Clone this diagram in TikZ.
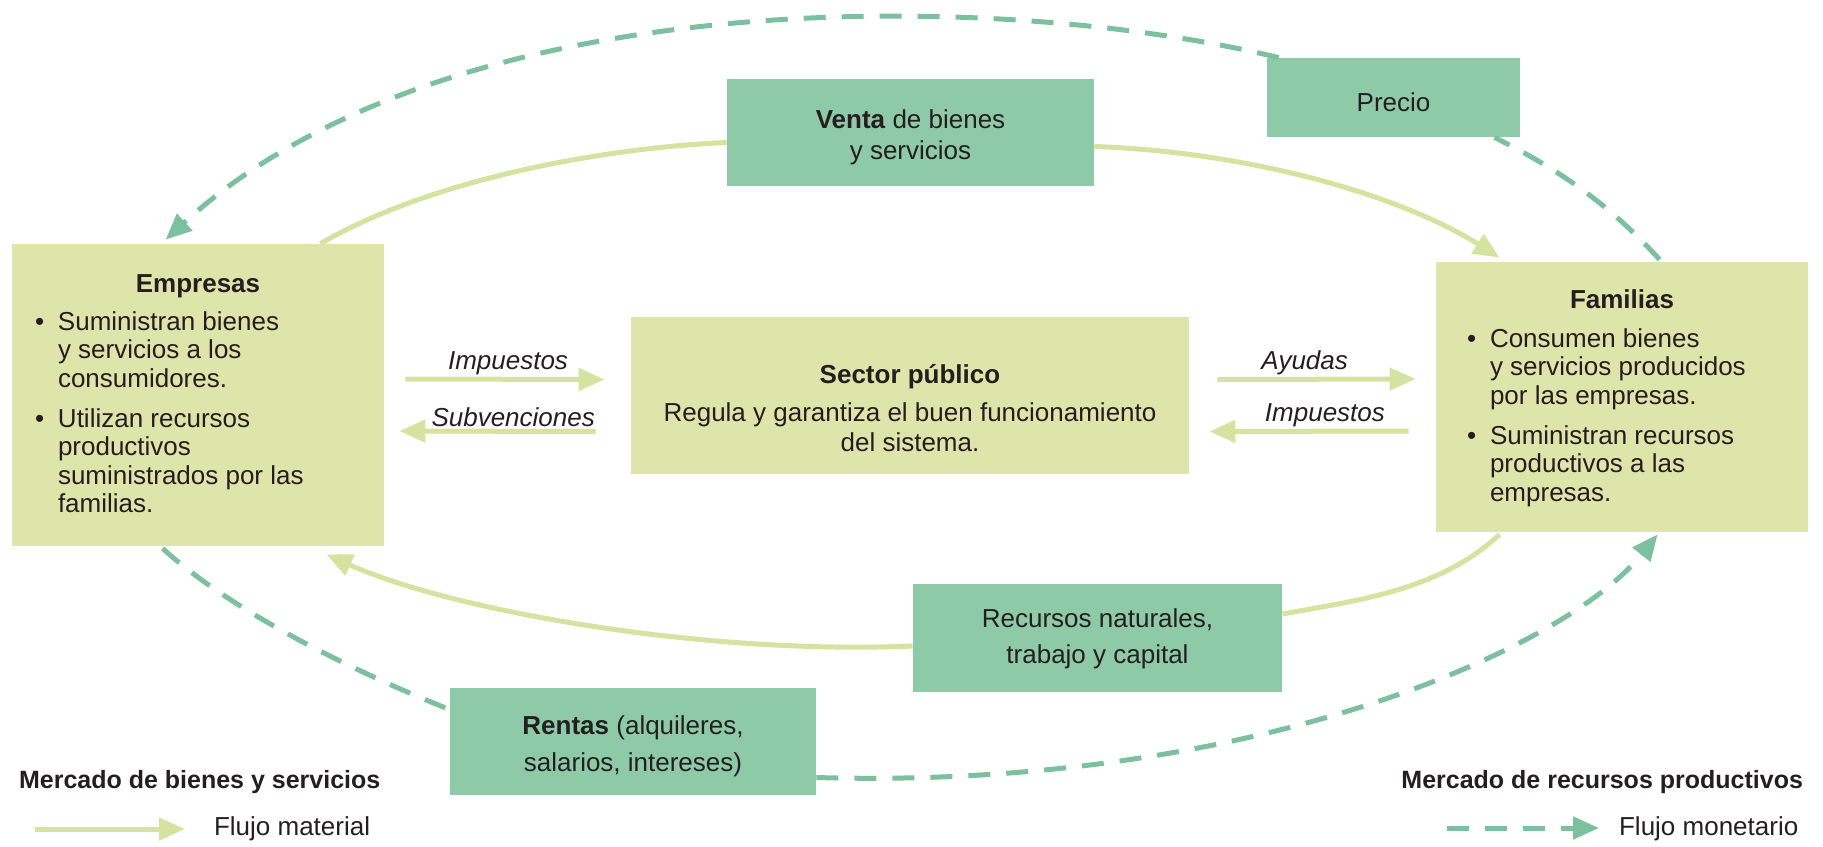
\documentclass[tikz,border=0pt]{standalone}
\usepackage{fontspec}
\setmainfont{Liberation Sans}
\usetikzlibrary{arrows.meta,calc}

\definecolor{verdeclaro}{RGB}{221,229,171}
\definecolor{verdeflujo}{RGB}{214,226,160}
\definecolor{menta}{RGB}{142,201,168}
\definecolor{mentaflujo}{RGB}{125,192,160}
\definecolor{tinta}{RGB}{35,31,32}

\newcommand{\bul}{\makebox[11.5pt][l]{\textbullet}}
\newcommand{\ind}{\hspace*{11.5pt}}

\tikzset{
	caja/.style={fill=verdeclaro, draw=none, inner sep=0pt},
	cajamenta/.style={fill=menta, draw=none, inner sep=0pt, align=center},
	cuerpo/.style={anchor=north west, align=left, inner sep=0pt, font=\fontsize{13}{14.3}\selectfont},
	flujomat/.style={draw=verdeflujo, line width=2.5pt, -{Triangle[length=13pt,width=11pt]}},
	flujomon/.style={draw=mentaflujo, line width=2.5pt, dash pattern=on 11pt off 8pt, -{Triangle[length=13pt,width=11pt]}},
	etiq/.style={font=\fontsize{13}{15}\selectfont\itshape, inner sep=1pt},
}

\begin{document}
\begin{tikzpicture}[x=0.5pt,y=0.5pt,yscale=-1,xscale=1,
	every node/.style={font=\fontsize{13}{15}\selectfont, text=tinta}]
	\useasboundingbox (0,0) rectangle (1823,846);
	
	%Shape: Rectangle [empresas, familias, sector publico]
	\node[caja, minimum width=186pt, minimum height=151pt] (emp) at (198,395) {};
	\node[caja, minimum width=186pt, minimum height=135pt] (fam) at (1622,397) {};
	\node[caja, minimum width=279pt, minimum height=78.5pt] (sec) at (910,395.5) {};
	
	%Shape: Rectangle [mercados]
	\node[cajamenta, minimum width=183.5pt, minimum height=53.5pt] (venta) at (910.5,132.5) {};
	\node[cajamenta, minimum width=126.5pt, minimum height=39.5pt] (precio) at (1393.5,97.5) {};
	\node[cajamenta, minimum width=184.5pt, minimum height=54pt] (recur) at (1097.5,638) {};
	\node[cajamenta, minimum width=183pt, minimum height=53.5pt] (rentas) at (633,741.5) {};
	
	% Text Node
	\node[align=center, font=\fontsize{13}{15.5}\selectfont] (ventatxt) at ($(venta.center)+(0,5)$) {\textbf{Venta} de bienes\\y servicios};
	\node (preciotxt) at ($(precio.center)+(0,4.5)$) {Precio};
	\node[align=center, font=\fontsize{13}{18}\selectfont] (recurtxt) at ($(recur.center)+(0,1)$) {Recursos naturales,\\trabajo y capital};
	\node[align=center, font=\fontsize{13}{18.3}\selectfont] (rentastxt) at ($(rentas.center)+(0,4.5)$) {\textbf{Rentas} (alquileres,\\salarios, intereses)};
	
	% Text Node
	\node (emptit) at ($(emp.north)+(0,42.5)$) {\textbf{Empresas}};
	\node[cuerpo] (empbody) at ($(emp.north west)+(23,67.5)$) {\bul Suministran bienes\\\ind y servicios a los\\\ind consumidores.\\[5.5pt]\bul Utilizan recursos\\\ind productivos\\\ind suministrados por las\\\ind familias.};
	% Text Node
	\node (famtit) at ($(fam.north)+(0,38)$) {\textbf{Familias}};
	\node[cuerpo] (fambody) at ($(fam.north west)+(31,66.5)$) {\bul Consumen bienes\\\ind y servicios producidos\\\ind por las empresas.\\[5.5pt]\bul Suministran recursos\\\ind productivos a las\\\ind empresas.};
	% Text Node
	\node[align=center] (sectxt) at ($(sec.center)+(0,13)$) {\textbf{Sector público}\\[4pt]Regula y garantiza el buen funcionamiento\\del sistema.};
	
	%Curve Lines [flujo material]
	\draw[flujomat, -] ($(emp.north east)+(-64,0)$) .. controls (430,180) and (600,148) .. ($(venta.west)+(0,10)$);
	\draw[flujomat] ($(venta.east)+(0,14)$) .. controls (1250,152) and (1400,195) .. ($(fam.north west)+(64,-4)$);
	\draw[flujomat, -] ($(fam.south west)+(64,2)$) .. controls (1440,590) and (1360,600) .. ($(recur.east)+(0,-24)$);
	\draw[flujomat] ($(recur.west)+(0,8)$) .. controls (700,655) and (450,610) .. ($(emp.south east)+(-58,8)$);
	
	%Curve Lines [flujo monetario]
	\draw[flujomon, -] ($(fam.north west)+(224,-2)$) .. controls (1610,205) and (1560,170) .. ($(precio.south east)+(-26,0)$);
	\draw[flujomon] ($(precio.north west)+(12,0)$) .. controls (1000,-10) and (450,-20) .. ($(emp.north west)+(154,-4)$);
	\draw[flujomon, -] ($(emp.south west)+(151,2)$) .. controls (230,610) and (350,670) .. ($(rentas.west)+(0,-32)$);
	\draw[flujomon] ($(rentas.east)+(0,36)$) .. controls (1250,790) and (1565,650) .. ($(fam.south west)+(222,2)$);
	
	%Straight Lines [sector publico]
	\draw[flujomat] ($(emp.east)+(21,-16)$) -- node[etiq, above, pos=0.515] (imp1) {Impuestos} ($(sec.west)+(-26,-16)$);
	\draw[flujomat] ($(sec.west)+(-35,36)$) -- node[etiq, above, pos=0.42] (subv) {Subvenciones} ($(emp.east)+(15,36)$);
	\draw[flujomat] ($(sec.east)+(28,-16)$) -- node[etiq, above, pos=0.44] (ayud) {Ayudas} ($(fam.west)+(-20,-18)$);
	\draw[flujomat] ($(fam.west)+(-27,34)$) -- node[etiq, above, pos=0.42] (imp2) {Impuestos} ($(sec.east)+(20,36)$);
	
	% Leyenda
	\node[anchor=west, font=\fontsize{12.5}{15}\selectfont\bfseries] (leyizq) at (12,782) {Mercado de bienes y servicios};
	\node[anchor=east, font=\fontsize{12.5}{15}\selectfont\bfseries] (leyder) at (1810,782) {Mercado de recursos productivos};
	\coordinate (matini) at (35,829);
	\coordinate (matfin) at (185,829);
	\draw[flujomat] (matini) -- (matfin);
	\node[anchor=west] (matlbl) at (207,829) {Flujo material};
	\coordinate (monini) at (1447,828);
	\coordinate (monfin) at (1599,828);
	\draw[flujomon] (monini) -- (monfin);
	\node[anchor=west] (monlbl) at (1612,829) {Flujo monetario};
	
\end{tikzpicture}
\end{document}
